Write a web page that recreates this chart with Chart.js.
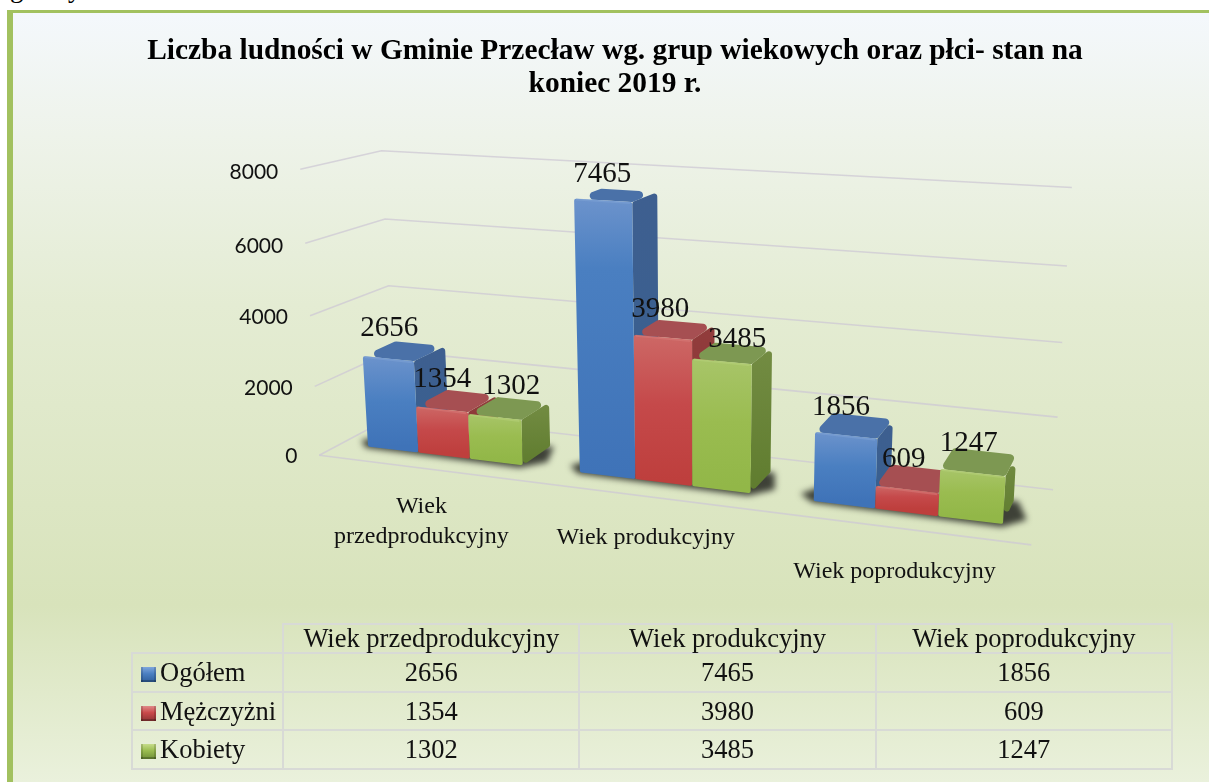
<!DOCTYPE html>
<html lang="pl"><head><meta charset="utf-8">
<script src="https://cdn.jsdelivr.net/npm/chart.js@4"></script>
<style>
html,body{margin:0;padding:0;background:#fff;width:1209px;height:782px;overflow:hidden}
#frag{position:absolute;left:10px;top:-27px;font:27px "Liberation Serif",serif;color:#000;letter-spacing:.6px}
#frame{position:absolute;left:7px;top:10px;width:1202px;height:772px;box-sizing:border-box;border-left:6px solid #a2c15f;border-top:3px solid #a2c15f;
background:linear-gradient(180deg,#f4f8fc 0%,#eef3ea 16%,#e4ecd3 38%,#d8e3bb 77%,#eaf1dc 100%)}
#wrap{position:absolute;left:21px;top:14px;width:1188px;height:768px}
table{position:absolute;left:131px;top:623px;border-collapse:collapse;table-layout:fixed;width:1042px;font:26.5px "Liberation Serif",serif;color:#111}
td,th{border:2px solid #d8dad6;padding:0;text-align:center;font-weight:normal;white-space:nowrap;line-height:1}
th.blank{border:none;border-bottom:2px solid #d8dad6;border-right:2px solid #d8dad6}
td.name{text-align:left;padding-left:8px}
.key{display:inline-block;width:15px;height:15px;margin-right:4px;vertical-align:-1px;box-sizing:border-box;
box-shadow:inset 0 -2px 0 rgba(0,0,0,.22),inset 2px 0 0 rgba(0,0,0,.14),inset -2px 0 0 rgba(0,0,0,.14)}
</style></head><body>
<div id="frag">gminy</div>
<div id="frame"></div>
<div id="wrap"><canvas id="c" width="1188" height="768"></canvas></div>
<table id="tbl"></table>
<script>
const categories = ['Wiek przedprodukcyjny', 'Wiek produkcyjny', 'Wiek poprodukcyjny'];
const axisLabels = [['Wiek', 'przedprodukcyjny'], 'Wiek produkcyjny', 'Wiek poprodukcyjny'];
const ogolem = [2656, 7465, 1856];
const mezczyzni = [1354, 3980, 609];
const kobiety = [1302, 3485, 1247];
const seriesNames = ['Ogółem', 'Mężczyżni', 'Kobiety'];
const yTicks = [0, 2000, 4000, 6000, 8000];
const titleLines = ['Liczba ludności w Gminie Przecław wg. grup wiekowych oraz płci- stan na', 'koniec 2019 r.'];

const skins = [
 {front:['#6c93cc','#4a7fc1','#3f73b8'], side:['#3e5f90','#38608f'], top:'#4a71a8', edge:'#7fa3d6'},
 {front:['#cd6866','#c5494a','#be3f3d'], side:['#923c3c','#853434'], top:'#a64f52', edge:'#d87c7a'},
 {front:['#a8c569','#9abc50','#92b748'], side:['#738c43','#5f7c2e'], top:'#7d9852', edge:'#b8d27c'}
];

// Camera calibration for the 3-D box: (u, w, v) box coordinates -> page pixels
const OX = 21, OY = 14;
const calibration = [
 [0,0,0,319,453],[0,0,.25,315,386],[0,0,.5,310,315],[0,0,.75,305,244],[0,0,1,300,171],
 [0,1,0,396,418],[0,1,.5,388,285],[0,1,.75,385,218],[0,1,1,382,150],
 [1,1,0,1052,489],[1,1,.25,1058,417],[1,1,.5,1062,342],[1,1,.75,1067,266],[1,1,1,1072,188],
 [1,0,0,1032,546]
];
const DEPTH = [0.28, 0.71];
// Hand placement of the value labels relative to the bar tops (dx, dy per category and series)
const labelNudge = [
 [[-20,1],[-19,3],[-1,3]],
 [[-16,0],[-15,3],[5,10]],
 [[-11,7],[-7,7],[-5,8]]
];

function solveCamera(pts){
  const A=[],B=[];
  pts.forEach(([u,w,v,x,y])=>{
    x/=1000;y/=1000;
    A.push([u,w,v,1,0,0,0,0,-x*u,-x*w,-x*v]);B.push(x);
    A.push([0,0,0,0,u,w,v,1,-y*u,-y*w,-y*v]);B.push(y);
  });
  const n=11,M=[];
  for(let i=0;i<n;i++){const r=new Array(n+1).fill(0);
    A.forEach((a,k)=>{for(let j=0;j<n;j++)r[j]+=a[i]*a[j];r[n]+=a[i]*B[k];});
    M.push(r);}
  for(let i=0;i<n;i++){
    let m=i;for(let k=i+1;k<n;k++)if(Math.abs(M[k][i])>Math.abs(M[m][i]))m=k;
    [M[i],M[m]]=[M[m],M[i]];
    for(let k=0;k<n;k++)if(k!==i){const f=M[k][i]/M[i][i];for(let j=i;j<=n;j++)M[k][j]-=f*M[i][j];}
  }
  return M.map((r,i)=>r[n]/r[i]);
}
const cam=solveCamera(calibration);
function project(u,w,v){
  const s=cam[8]*u+cam[9]*w+cam[10]*v+1;
  return [1000*(cam[0]*u+cam[1]*w+cam[2]*v+cam[3])/s-OX,1000*(cam[4]*u+cam[5]*w+cam[6]*v+cam[7])/s-OY];
}
function poly(ctx,pts,r){
  ctx.beginPath();
  const n=pts.length;
  if(!r){pts.forEach((p,i)=>i?ctx.lineTo(p[0],p[1]):ctx.moveTo(p[0],p[1]));ctx.closePath();return;}
  const m=[(pts[n-1][0]+pts[0][0])/2,(pts[n-1][1]+pts[0][1])/2];
  ctx.moveTo(m[0],m[1]);
  for(let i=0;i<n;i++){const a=pts[i],b=pts[(i+1)%n];ctx.arcTo(a[0],a[1],b[0],b[1],r);}
  ctx.closePath();
}
function lerp(a,b,t){return [a[0]+(b[0]-a[0])*t,a[1]+(b[1]-a[1])*t];}

const box3d = {
  id:'box3d',
  afterUpdate(chart){
    const {x:xs,y:ys}=chart.scales, H=ys.bottom-ys.top, W=xs.right-xs.left;
    ys.getLabelItems().forEach((it,i)=>{
      const v=(ys.bottom-ys.getPixelForTick(i))/H, p=project(0,0,v);
      it.options.translation=[p[0]-22,p[1]+1+2*v];
      it.options.textAlign='right'; it.textAlign='right'; it.textBaseline='middle'; it.options.textBaseline='middle';
      it.textOffset=0;
    });
    xs.getLabelItems().forEach((it,i)=>{
      const u=(xs.getPixelForTick(i)-xs.left)/W, p=project(u,0,0);
      it.options.translation=[p[0]-2,p[1]+25+8*u];
      it.options.textAlign='center'; it.textAlign='center';
      it.options.textBaseline='top'; it.textBaseline='top'; it.textOffset=0;
    });
  },
  beforeDatasetsDraw(chart){
    const ctx=chart.ctx,{x:xs,y:ys}=chart.scales,H=ys.bottom-ys.top,W=xs.right-xs.left;
    // gridlines
    ctx.save();ctx.strokeStyle='rgba(205,200,212,.75)';ctx.lineWidth=1.6;
    ys.ticks.forEach(t=>{
      const v=(ys.bottom-ys.getPixelForValue(t.value))/H;
      const a=project(0,0,v),b=project(0,1,v),c=project(1,1,v);
      ctx.beginPath();ctx.moveTo(a[0],a[1]);ctx.lineTo(b[0],b[1]);ctx.lineTo(c[0],c[1]);ctx.stroke();
      if(t.value===0){const d=project(1,0,0);ctx.beginPath();ctx.moveTo(a[0],a[1]);ctx.lineTo(d[0],d[1]);ctx.stroke();}
    });
    ctx.restore();
    const metas=chart.data.datasets.map((_,i)=>chart.getDatasetMeta(i));
    const nCat=chart.data.labels.length, nSer=metas.length, [w0,w1]=DEPTH;
    // floor shadows
    for(let c=0;c<nCat;c++){
      const first=metas[0].data[c], last=metas[nSer-1].data[c];
      const u0=(first.x-first.width/2-xs.left)/W, u1=(last.x+last.width/2-xs.left)/W;
      ctx.save();ctx.filter='blur(3px)';ctx.fillStyle='rgba(40,42,35,.88)';
      poly(ctx,[project(u0-.024,w0+.1,0),project(u0,w0-.03,0),project(u1,w0-.05,0),project(u1+.026,w0+.12,0),project(u1+.006,w1,0),project(u0,w1-.1,0)]);
      ctx.fill();ctx.restore();
    }
    // bars, left to right
    const labels=[];
    for(let c=0;c<nCat;c++)for(let s=0;s<nSer;s++){
      const bar=metas[s].data[c], sk=skins[s];
      const u0=(bar.x-bar.width/2-xs.left)/W, u1=(bar.x+bar.width/2-xs.left)/W;
      const v=(ys.getPixelForValue(0)-bar.y)/H;
      const fbl=project(u0,w0,0),fbr=project(u1,w0,0),ftl=project(u0,w0,v),ftr=project(u1,w0,v);
      const bbr=project(u1,w1,0),btr=project(u1,w1,v),btl=project(u0,w1,v);
      // side
      let g=ctx.createLinearGradient(0,btr[1],0,fbr[1]);g.addColorStop(0,sk.side[0]);g.addColorStop(1,sk.side[1]);
      ctx.fillStyle=g;poly(ctx,[ftr,btr,bbr,fbr],3);ctx.fill();
      // top
      ctx.fillStyle=sk.top;poly(ctx,[ftl,btl,btr,ftr],4);ctx.fill();
      // front
      g=ctx.createLinearGradient(0,ftl[1],0,fbl[1]);
      g.addColorStop(0,sk.front[0]);g.addColorStop(Math.min(.5,70/Math.max(fbl[1]-ftl[1],1)),sk.front[1]);g.addColorStop(1,sk.front[2]);
      ctx.fillStyle=g;poly(ctx,[ftl,ftr,fbr,fbl],2);ctx.fill();
      // bevel highlight along the upper front edge
      ctx.save();ctx.strokeStyle=sk.edge;ctx.globalAlpha=.5;ctx.lineWidth=2;
      ctx.beginPath();ctx.moveTo(ftl[0]+2,ftl[1]+1);ctx.lineTo(ftr[0]-2,ftr[1]+1);ctx.stroke();ctx.restore();
      const back=lerp(btl,btr,.5), nudge=labelNudge[c][s];
      labels.push([chart.data.datasets[s].data[c],back[0]-11+nudge[0],back[1]-16+nudge[1]]);
    }
    ctx.save();
    ctx.font='29px "Liberation Serif", serif';ctx.fillStyle='#111';ctx.textAlign='center';ctx.textBaseline='middle';
    labels.forEach(l=>ctx.fillText(String(l[0]),l[1],l[2]));
    ctx.restore();
    return false;
  }
};

new Chart(document.getElementById('c'),{
  type:'bar',
  data:{labels:axisLabels,datasets:[
    {label:seriesNames[0],data:ogolem,backgroundColor:skins[0].front[1]},
    {label:seriesNames[1],data:mezczyzni,backgroundColor:skins[1].front[1]},
    {label:seriesNames[2],data:kobiety,backgroundColor:skins[2].front[1]}
  ]},
  options:{
    responsive:false,animation:false,
    layout:{padding:{bottom:220}},
    datasets:{bar:{barPercentage:1,categoryPercentage:.74}},
    plugins:{
      legend:{display:false},tooltip:{enabled:false},
      title:{display:true,text:titleLines,color:'#000',padding:{top:21,bottom:30},
        font:{family:'"Liberation Serif", serif',size:29.4,weight:'bold',lineHeight:1.12}}
    },
    scales:{
      x:{grid:{display:false},border:{display:false},
         ticks:{mirror:true,color:'#111',maxRotation:0,autoSkip:false,font:{family:'"Liberation Serif", serif',size:24,lineHeight:1.25}}},
      y:{min:0,max:8000,grid:{display:false},border:{display:false},
         afterBuildTicks(a){a.ticks=yTicks.map(value=>({value}));},
         ticks:{mirror:true,color:'#111',font:{family:'Lato, sans-serif',size:21},callback:v=>String(v)}}
    }
  },
  plugins:[box3d]
});

// data table under the plot
const tbl=document.getElementById('tbl');
const colW=[151,296,296,296], rowH=[29,39,38,39];
const keyCols=[['#4a7fc1','#2f5f9c','#7fa6dc'],['#c9494a','#8f3535','#e08a88'],['#9abc50','#6f8f37','#c6dc8a']];
let html='<colgroup>'+colW.map(w=>`<col style="width:${w}px">`).join('')+'</colgroup>';
html+=`<tr style="height:${rowH[0]}px"><th class="blank"></th>`+categories.map(c=>`<th>${c}</th>`).join('')+'</tr>';
[ogolem,mezczyzni,kobiety].forEach((vals,i)=>{
  const k=keyCols[i];
  html+=`<tr style="height:${rowH[i+1]}px"><td class="name"><span class="key" style="background:linear-gradient(180deg,${k[2]},${k[0]} 45%,${k[1]})"></span>${seriesNames[i]}</td>`+vals.map(v=>`<td>${v}</td>`).join('')+'</tr>';
});
tbl.innerHTML=html;
</script>
</body></html>
